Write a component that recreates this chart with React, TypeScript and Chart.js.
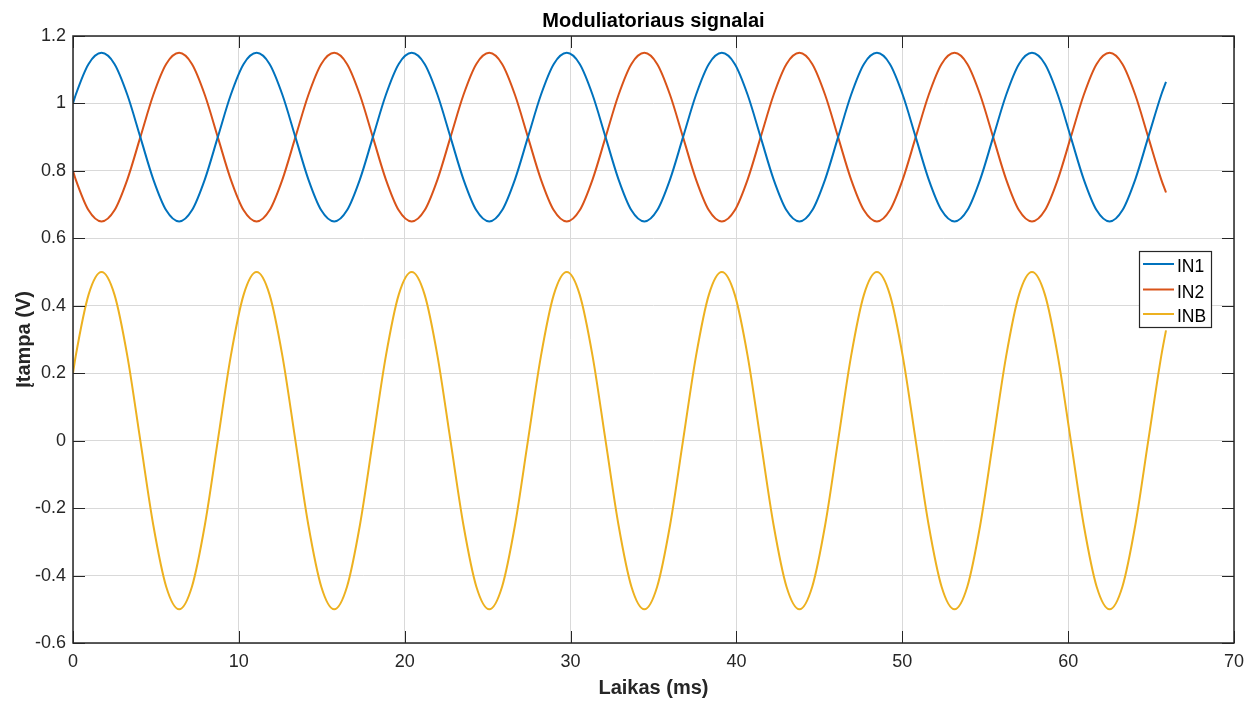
import { useEffect, useRef } from 'react';
import { Chart, registerables } from 'chart.js';

Chart.register(...registerables);

const chartTitle = 'Moduliatoriaus signalai';
const xAxisTitle = 'Laikas (ms)';
const yAxisTitle = 'Įtampa (V)';
const seriesNames = ['IN1', 'IN2', 'INB'];
const seriesColors = ['#0072BD', '#D95319', '#EDB120'];

const xTicks = [0, 10, 20, 30, 40, 50, 60, 70];
const xTickLabels = ['0', '10', '20', '30', '40', '50', '60', '70'];
const yTicks = [-0.6, -0.4, -0.2, 0, 0.2, 0.4, 0.6, 0.8, 1, 1.2];
const yTickLabels = ['-0.6', '-0.4', '-0.2', '0', '0.2', '0.4', '0.6', '0.8', '1', '1.2'];

// sample times (ms)
const timeMs = [
  0, 0.16, 0.94,
  1.72, 2.50, 3.28, 4.06, 4.84, 5.62, 6.40, 7.17, 7.95, 8.73, 9.51, 10.29,
  11.07, 11.85, 12.63, 13.41, 14.19, 14.97, 15.75, 16.52, 17.30, 18.08, 18.86, 19.64,
  20.42, 21.20, 21.98, 22.76, 23.54, 24.32, 25.10, 25.87, 26.65, 27.43, 28.21, 28.99,
  29.77, 30.55, 31.33, 32.11, 32.89, 33.67, 34.45, 35.22, 36.00, 36.78, 37.56, 38.34,
  39.12, 39.90, 40.68, 41.46, 42.24, 43.02, 43.80, 44.57, 45.35, 46.13, 46.91, 47.69,
  48.47, 49.25, 50.03, 50.81, 51.59, 52.37, 53.15, 53.92, 54.70, 55.48, 56.26, 57.04,
  57.82, 58.60, 59.38, 60.16, 60.94, 61.72, 62.50, 63.27, 64.05, 64.83, 65.61,
  65.90,
];

const in1 = [
  1.00, 1.025, 1.117,
  1.15, 1.117, 1.025, 0.90, 0.775, 0.683, 0.65, 0.683, 0.775, 0.90, 1.025, 1.117,
  1.15, 1.117, 1.025, 0.90, 0.775, 0.683, 0.65, 0.683, 0.775, 0.90, 1.025, 1.117,
  1.15, 1.117, 1.025, 0.90, 0.775, 0.683, 0.65, 0.683, 0.775, 0.90, 1.025, 1.117,
  1.15, 1.117, 1.025, 0.90, 0.775, 0.683, 0.65, 0.683, 0.775, 0.90, 1.025, 1.117,
  1.15, 1.117, 1.025, 0.90, 0.775, 0.683, 0.65, 0.683, 0.775, 0.90, 1.025, 1.117,
  1.15, 1.117, 1.025, 0.90, 0.775, 0.683, 0.65, 0.683, 0.775, 0.90, 1.025, 1.117,
  1.15, 1.117, 1.025, 0.90, 0.775, 0.683, 0.65, 0.683, 0.775, 0.90, 1.025,
  1.064,
];

const in2 = [
  0.80, 0.775, 0.683,
  0.65, 0.683, 0.775, 0.90, 1.025, 1.117, 1.15, 1.117, 1.025, 0.90, 0.775, 0.683,
  0.65, 0.683, 0.775, 0.90, 1.025, 1.117, 1.15, 1.117, 1.025, 0.90, 0.775, 0.683,
  0.65, 0.683, 0.775, 0.90, 1.025, 1.117, 1.15, 1.117, 1.025, 0.90, 0.775, 0.683,
  0.65, 0.683, 0.775, 0.90, 1.025, 1.117, 1.15, 1.117, 1.025, 0.90, 0.775, 0.683,
  0.65, 0.683, 0.775, 0.90, 1.025, 1.117, 1.15, 1.117, 1.025, 0.90, 0.775, 0.683,
  0.65, 0.683, 0.775, 0.90, 1.025, 1.117, 1.15, 1.117, 1.025, 0.90, 0.775, 0.683,
  0.65, 0.683, 0.775, 0.90, 1.025, 1.117, 1.15, 1.117, 1.025, 0.90, 0.775,
  0.736,
];

const inb = [
  0.20, 0.25, 0.433,
  0.50, 0.433, 0.25, 0.00, -0.25, -0.433, -0.50, -0.433, -0.25, 0.00, 0.25, 0.433,
  0.50, 0.433, 0.25, 0.00, -0.25, -0.433, -0.50, -0.433, -0.25, 0.00, 0.25, 0.433,
  0.50, 0.433, 0.25, 0.00, -0.25, -0.433, -0.50, -0.433, -0.25, 0.00, 0.25, 0.433,
  0.50, 0.433, 0.25, 0.00, -0.25, -0.433, -0.50, -0.433, -0.25, 0.00, 0.25, 0.433,
  0.50, 0.433, 0.25, 0.00, -0.25, -0.433, -0.50, -0.433, -0.25, 0.00, 0.25, 0.433,
  0.50, 0.433, 0.25, 0.00, -0.25, -0.433, -0.50, -0.433, -0.25, 0.00, 0.25, 0.433,
  0.50, 0.433, 0.25, 0.00, -0.25, -0.433, -0.50, -0.433, -0.25, 0.00, 0.25,
  0.327,
];

const FONT = '"Liberation Sans", Arial, Helvetica, sans-serif';
const AXIS_COLOR = '#262626';
const GRID_COLOR = '#d9d9d9';

const decorPlugin = {
  id: 'matlabDecor',
  afterDatasetsDraw(chart: any) {
    const { ctx, chartArea: a, scales } = chart;
    const xs = scales.x;
    const ys = scales.y;
    ctx.save();

    // tick marks (inward, all four sides)
    ctx.strokeStyle = AXIS_COLOR;
    ctx.lineWidth = 1;
    ctx.beginPath();
    const tl = 12;
    xTicks.forEach((v) => {
      const px = Math.round(xs.getPixelForValue(v)) + 0.5;
      ctx.moveTo(px, a.bottom);
      ctx.lineTo(px, a.bottom - tl);
      ctx.moveTo(px, a.top);
      ctx.lineTo(px, a.top + tl);
    });
    yTicks.forEach((v) => {
      const py = Math.round(ys.getPixelForValue(v)) + 0.5;
      ctx.moveTo(a.left, py);
      ctx.lineTo(a.left + tl, py);
      ctx.moveTo(a.right, py);
      ctx.lineTo(a.right - tl, py);
    });
    ctx.stroke();

    // axes box
    ctx.lineWidth = 1.5;
    ctx.strokeRect(a.left, a.top, a.right - a.left, a.bottom - a.top);

    // legend
    const lx = 1139.5;
    const ly = 251.5;
    const lw = 72;
    const lh = 76;
    ctx.fillStyle = '#ffffff';
    ctx.fillRect(lx, ly, lw, lh);
    ctx.lineWidth = 1.2;
    ctx.strokeStyle = AXIS_COLOR;
    ctx.strokeRect(lx, ly, lw, lh);
    const rowY = [264, 289.5, 314];
    ctx.font = `17.5px ${FONT}`;
    ctx.textBaseline = 'alphabetic';
    ctx.textAlign = 'left';
    seriesNames.forEach((name, i) => {
      ctx.strokeStyle = seriesColors[i];
      ctx.lineWidth = 2;
      ctx.beginPath();
      ctx.moveTo(1143, rowY[i]);
      ctx.lineTo(1174, rowY[i]);
      ctx.stroke();
      ctx.fillStyle = '#000000';
      ctx.fillText(name, 1177, rowY[i] + 8);
    });

    // title
    ctx.font = `bold 20px ${FONT}`;
    ctx.fillStyle = '#000000';
    ctx.textAlign = 'center';
    ctx.fillText(chartTitle, (a.left + a.right) / 2, 27);

    ctx.restore();
  },
};

export default function App() {
  const canvasRef = useRef<HTMLCanvasElement | null>(null);

  useEffect(() => {
    document.body.style.margin = '0';
    document.body.style.background = '#ffffff';
    const canvas = canvasRef.current;
    if (!canvas) return;

    const seriesValues = [in1, in2, inb];
    const chart = new Chart(canvas, {
      type: 'line',
      data: {
        datasets: seriesNames.map((name, i) => ({
          label: name,
          data: timeMs.map((t, j) => ({ x: t, y: seriesValues[i][j] })),
          borderColor: seriesColors[i],
          backgroundColor: seriesColors[i],
          borderWidth: 2,
          pointRadius: 0,
          pointHoverRadius: 0,
          fill: false,
          cubicInterpolationMode: 'monotone' as const,
        })),
      },
      options: {
        responsive: false,
        animation: false,
        events: [],
        layout: { padding: { top: 36, right: 24, bottom: 0, left: 0 } },
        plugins: {
          legend: { display: false },
          title: { display: false },
          tooltip: { enabled: false },
        },
        scales: {
          x: {
            type: 'linear',
            min: 0,
            max: 70,
            afterBuildTicks: (s: any) => {
              s.ticks = xTicks.map((v) => ({ value: v }));
            },
            afterFit: (s: any) => {
              s.height = 58;
            },
            grid: { color: GRID_COLOR, lineWidth: 1, drawTicks: false },
            border: { display: false },
            ticks: {
              padding: 8,
              color: AXIS_COLOR,
              font: { family: FONT, size: 18 },
              maxRotation: 0,
              autoSkip: false,
              callback: (_v: any, idx: number) => xTickLabels[idx],
            },
            title: {
              display: true,
              text: xAxisTitle,
              color: AXIS_COLOR,
              font: { family: FONT, size: 20, weight: 'bold' },
              padding: { top: 0, bottom: 1 },
            },
          },
          y: {
            type: 'linear',
            min: -0.6,
            max: 1.2,
            afterBuildTicks: (s: any) => {
              s.ticks = yTicks.map((v) => ({ value: v }));
            },
            afterFit: (s: any) => {
              s.width = 73;
            },
            grid: { color: GRID_COLOR, lineWidth: 1, drawTicks: false },
            border: { display: false },
            ticks: {
              padding: 7,
              color: AXIS_COLOR,
              font: { family: FONT, size: 18 },
              autoSkip: false,
              callback: (_v: any, idx: number) => yTickLabels[idx],
            },
            title: {
              display: true,
              text: yAxisTitle,
              color: AXIS_COLOR,
              font: { family: FONT, size: 20, weight: 'bold' },
              padding: { top: 12, bottom: 0 },
            },
          },
        },
      },
      plugins: [decorPlugin],
    });

    return () => {
      chart.destroy();
    };
  }, []);

  return (
    <div style={{ width: 1258, height: 701, background: '#ffffff' }}>
      <canvas ref={canvasRef} width={1258} height={701} style={{ display: 'block' }} />
    </div>
  );
}
